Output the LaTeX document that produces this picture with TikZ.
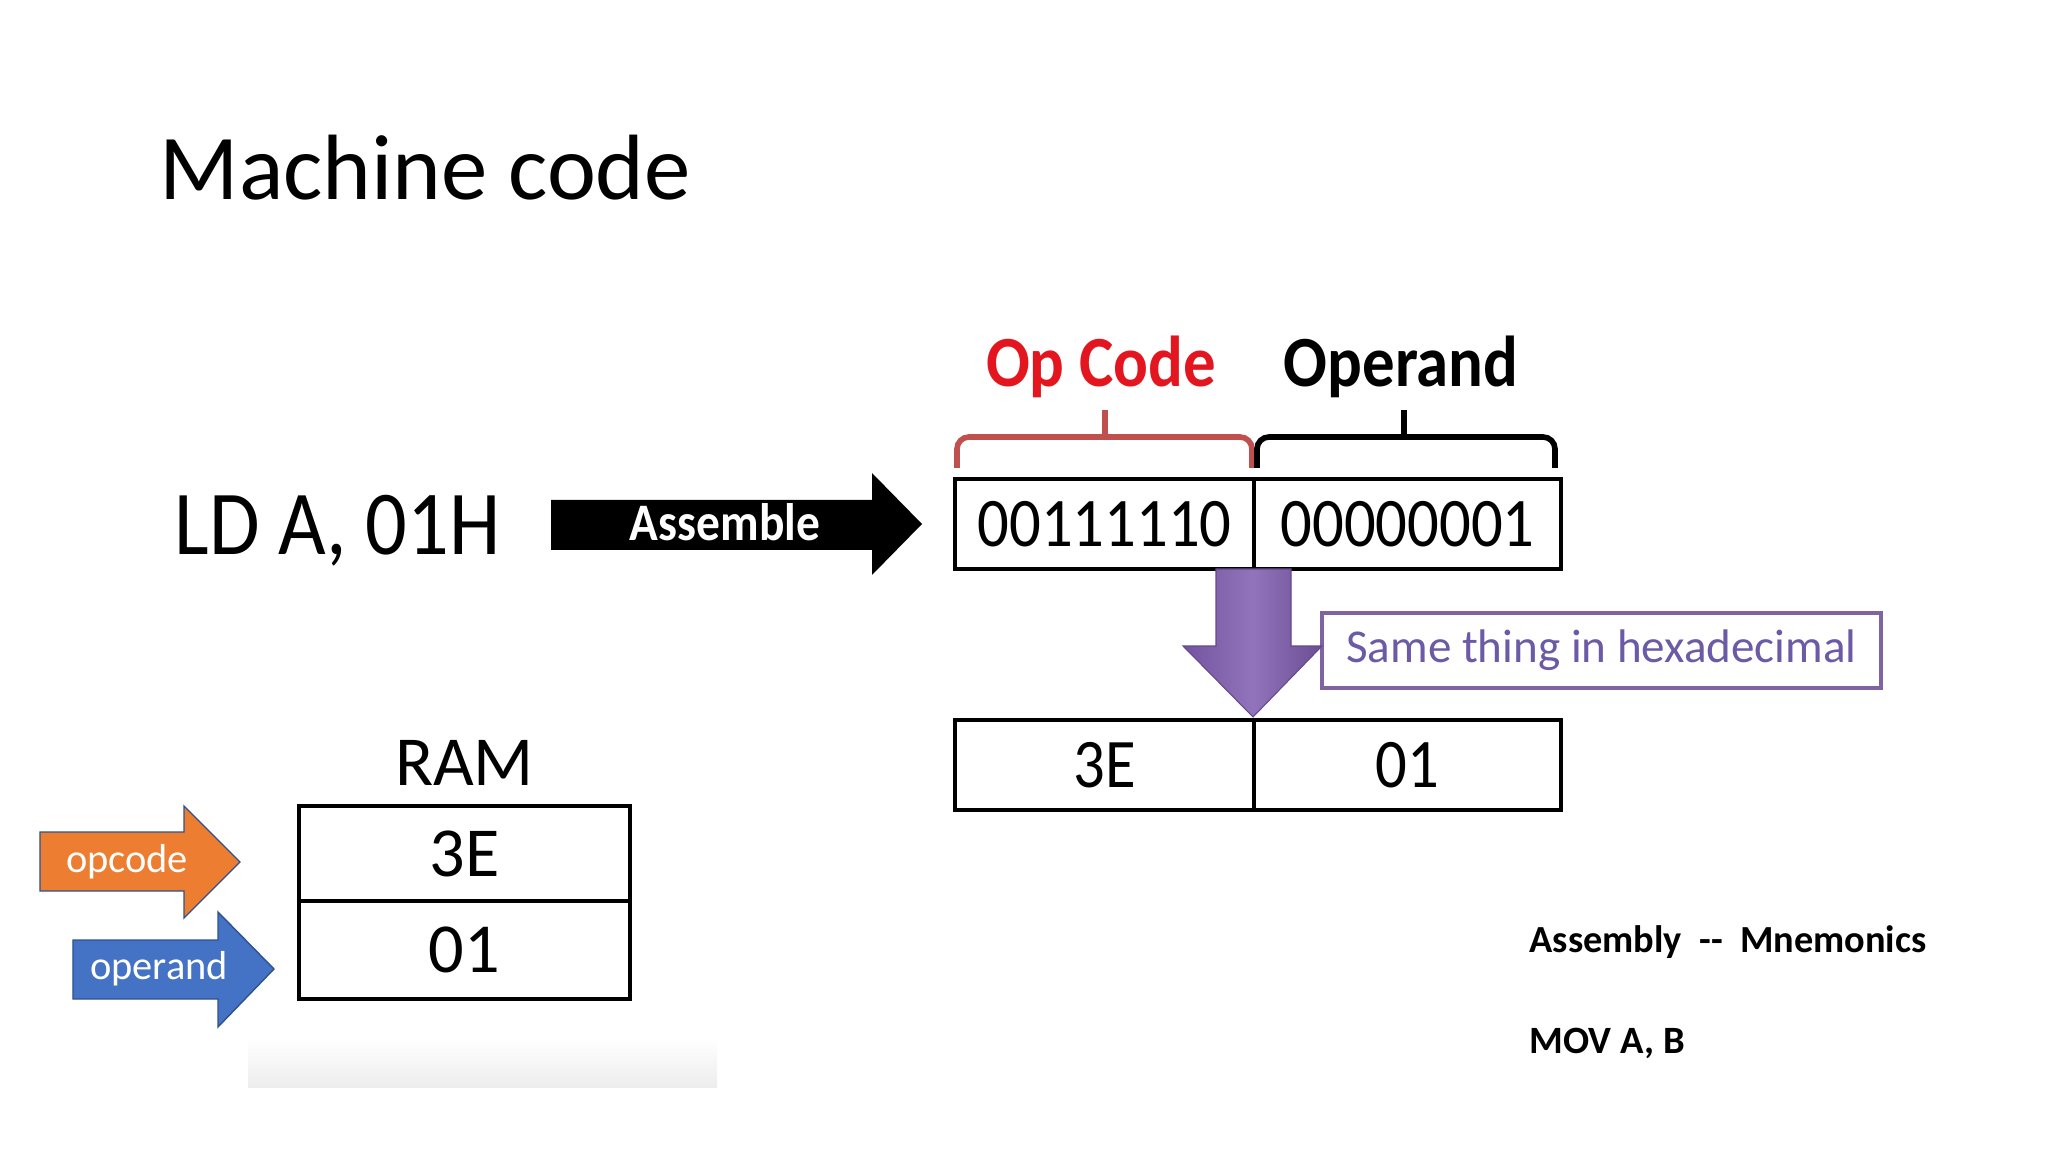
\documentclass[tikz,border=0pt]{standalone}
\usepackage{fontspec}
\setmainfont{Carlito}
\newfontfamily\shotfont[FakeStretch=0.9]{Carlito}
\usetikzlibrary{positioning}
\definecolor{mcred}{HTML}{E3161F}
\definecolor{mcbrace}{HTML}{C0504D}
\definecolor{mcpurple}{HTML}{7D5BAE}
\definecolor{mcframe}{HTML}{8064A2}
\definecolor{mctext}{HTML}{6C5AA6}
\definecolor{mcorange}{HTML}{ED7D31}
\definecolor{mcblue}{HTML}{4472C4}
\definecolor{mcedge}{HTML}{2F528F}

\begin{document}
\begin{tikzpicture}[
  cell/.style={draw, line width=1.3pt, outer sep=0pt, inner sep=0pt, minimum height=0.9cm,
    font=\shotfont\fontsize{19.8}{23}\selectfont},
  ramcell/.style={draw, line width=1.3pt, outer sep=0pt, inner sep=0pt, minimum width=3.31cm,
    font=\fontsize{20}{24}\selectfont},
  label/.style={inner sep=0pt, anchor=base},
  blockarrow/.style={draw=mcedge, line width=0.4pt}
]
  \useasboundingbox (0,0) rectangle (20.48,-11.52);

  % title
  \node[label, anchor=base west, font=\fontsize{26.4}{32}\selectfont] (title) at (1.59,-2.00) {Machine code};

  % assembly line and the assemble arrow
  \node[label, anchor=base west, font=\shotfont\fontsize{26}{31}\selectfont] (instr) at (1.74,-5.55) {LD A, 01H};
  \fill (5.51,-5.00) -- (8.72,-5.00) -- (8.72,-4.73) -- (9.22,-5.24) -- (8.72,-5.75) -- (8.72,-5.50) -- (5.51,-5.50) -- cycle;
  \node[label, text=white, font=\shotfont\bfseries\fontsize{15}{18}\selectfont] (asm) at (7.25,-5.41) {Assemble};

  % binary and hex words
  \node[cell, minimum width=2.99cm] (bin1) at (11.045,-5.24) {00111110};
  \node[cell, minimum width=3.07cm, right=0pt of bin1] (bin2) {00000001};
  \node[cell, minimum width=2.99cm] (hex1) at (11.045,-7.65) {3E};
  \node[cell, minimum width=3.07cm, right=0pt of hex1] (hex2) {01};

  % braces over the fields
  \draw[mcbrace, line width=1.6pt, rounded corners=0.12cm] (9.57,-4.68) |- (12.52,-4.37) -- (12.52,-4.68);
  \draw[mcbrace, line width=1.6pt] (11.05,-4.37) -- (11.05,-4.10);
  \draw[line width=1.6pt, rounded corners=0.12cm] (12.57,-4.68) |- (15.55,-4.37) -- (15.55,-4.68);
  \draw[line width=1.6pt] (14.04,-4.37) -- (14.04,-4.10);
  \node[label, text=mcred, font=\shotfont\bfseries\fontsize{20.5}{25}\selectfont] (opc) at (11.01,-3.87) {Op Code};
  \node[label, font=\shotfont\bfseries\fontsize{20.5}{25}\selectfont] (opd) at (14.01,-3.87) {Operand};

  % hex note
  \node[draw=mcframe, line width=1.2pt, fill=white, minimum width=5.59cm, minimum height=0.75cm,
    text=mctext, font=\fontsize{13.4}{16}\selectfont] (note) at (16.015,-6.505) {Same thing in hexadecimal};
  \path[left color=mcpurple!92!black, right color=mcpurple!85!black, middle color=mcpurple!85!white,
    draw=mcpurple!80!black, line width=0.3pt]
    (12.16,-5.69) -- (12.91,-5.69) -- (12.91,-6.46) -- (13.22,-6.46) -- (12.53,-7.17)
    -- (11.83,-6.46) -- (12.16,-6.46) -- cycle;

  % RAM
  \node[label, font=\fontsize{20}{24}\selectfont] (ram) at (4.645,-7.85) {RAM};
  \node[ramcell, minimum height=0.95cm] (ram1) at (4.645,-8.535) {3E};
  \node[ramcell, minimum height=0.98cm, below=0pt of ram1] (ram2) {01};
  \fill[top color=white, bottom color=black!7] (2.48,-10.38) rectangle (7.17,-10.87);

  % opcode / operand pointers
  \fill[mcorange] (0.40,-8.32) -- (1.84,-8.32) -- (1.84,-8.06) -- (2.40,-8.62) -- (1.84,-9.18) -- (1.84,-8.91) -- (0.40,-8.91) -- cycle;
  \draw[blockarrow] (0.40,-8.32) -- (1.84,-8.32) -- (1.84,-8.06) -- (2.40,-8.62) -- (1.84,-9.18) -- (1.84,-8.91) -- (0.40,-8.91) -- cycle;
  \node[text=white, font=\fontsize{11.5}{14}\selectfont] (popc) at (1.27,-8.62) {opcode};
  \fill[mcblue] (0.73,-9.40) -- (2.18,-9.40) -- (2.18,-9.12) -- (2.74,-9.69) -- (2.18,-10.27) -- (2.18,-9.99) -- (0.73,-9.99) -- cycle;
  \draw[blockarrow] (0.73,-9.40) -- (2.18,-9.40) -- (2.18,-9.12) -- (2.74,-9.69) -- (2.18,-10.27) -- (2.18,-9.99) -- (0.73,-9.99) -- cycle;
  \node[text=white, font=\fontsize{11.5}{14}\selectfont] (popd) at (1.59,-9.69) {operand};

  % side notes
  \node[label, anchor=base west, font=\bfseries\fontsize{10.9}{14}\selectfont] (mnem) at (15.29,-9.52) {Assembly\ \ {-}{-}\ \ Mnemonics};
  \node[label, anchor=base west, font=\bfseries\fontsize{11}{14}\selectfont] (mov) at (15.29,-10.53) {MOV A, B};
\end{tikzpicture}
\end{document}
